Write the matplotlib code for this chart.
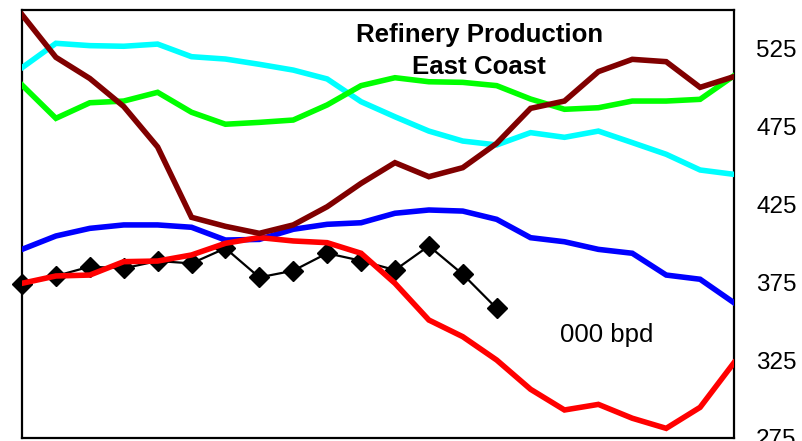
import matplotlib.pyplot as plt
import numpy as np

plt.rcParams['font.family'] = ['Liberation Sans', 'DejaVu Sans']

# weekly refinery production, 000 bpd
maroon = [547, 519.6, 506, 488, 462, 416.8, 411, 406.5, 411.9, 423.6, 438.6,
          451.9, 442.9, 448.7, 464.3, 486.8, 491.5, 510.4, 518.3, 516.8, 500.3, 507.2]
cyan = [512.9, 528.6, 527.1, 526.7, 528.1, 520, 518.5, 515.1, 511.4, 505.7, 491.1,
        481.4, 472.2, 465.8, 463.3, 471.2, 468.2, 472.2, 464.8, 457.3, 447.2, 444.4]
green = [501.8, 480.4, 490.4, 491.5, 497.1, 484.3, 476.6, 477.8, 479.3, 489, 501.4,
         506.5, 503.9, 503.5, 501.4, 492.8, 486.2, 487.2, 491.5, 491.5, 492.6, 507.8]
blue = [396.2, 404.8, 409.7, 411.9, 411.9, 410.4, 402.2, 402.6, 409.1, 412.3, 413.3,
        419.4, 421.5, 420.8, 415.5, 403.7, 401.1, 396.2, 393.7, 379.7, 377, 361.9]
red = [374.4, 379.1, 379.7, 388.3, 388.7, 392.6, 400.1, 403.8, 401.6, 400.5, 393.7,
       374.4, 350.8, 340.1, 325.1, 306.3, 293, 296.6, 287.7, 281.2, 294.7, 323.4]
current = [374, 379.1, 385.1, 384, 388.7, 387.2, 396.9, 378.2, 382.5, 393.7, 388.9,
           382.9, 398.4, 380.2, 358.3]
yticks = [275, 325, 375, 425, 475, 525]

fig = plt.figure(figsize=(8.03, 4.41), dpi=100)
ax = fig.add_axes([22/803, 3/441, 712/803, 428/441])

ax.plot(np.arange(len(current)), current, color='black', lw=1.6,
        marker='D', markersize=10, zorder=2, clip_on=False)
for ys, c in [(cyan, '#00ffff'), (green, '#00ff00'), (blue, '#0000ff'),
              (red, '#ff0000'), (maroon, '#800000')]:
    ax.plot(np.arange(len(ys)), ys, color=c, lw=4, solid_joinstyle='miter', zorder=3)

ax.set_xlim(0, 21)
ax.set_ylim(275, 550)
ax.set_xticks([])
ax.set_yticks(yticks)
ax.yaxis.tick_right()
ax.tick_params(axis='y', length=0, pad=16, labelsize=17.5)
for s in ax.spines.values():
    s.set_linewidth(1.6)
    s.set_color('black')

ax.text(0.642, 0.9245, 'Refinery Production', transform=ax.transAxes,
        ha='center', va='baseline', fontsize=18.6, fontweight='bold')
ax.text(0.642, 0.8498, 'East Coast', transform=ax.transAxes,
        ha='center', va='baseline', fontsize=18.6, fontweight='bold')
ax.text(15.87, 336.9, '000 bpd', ha='left', va='baseline', fontsize=18.5)

fig.savefig('out.png', dpi=100)
